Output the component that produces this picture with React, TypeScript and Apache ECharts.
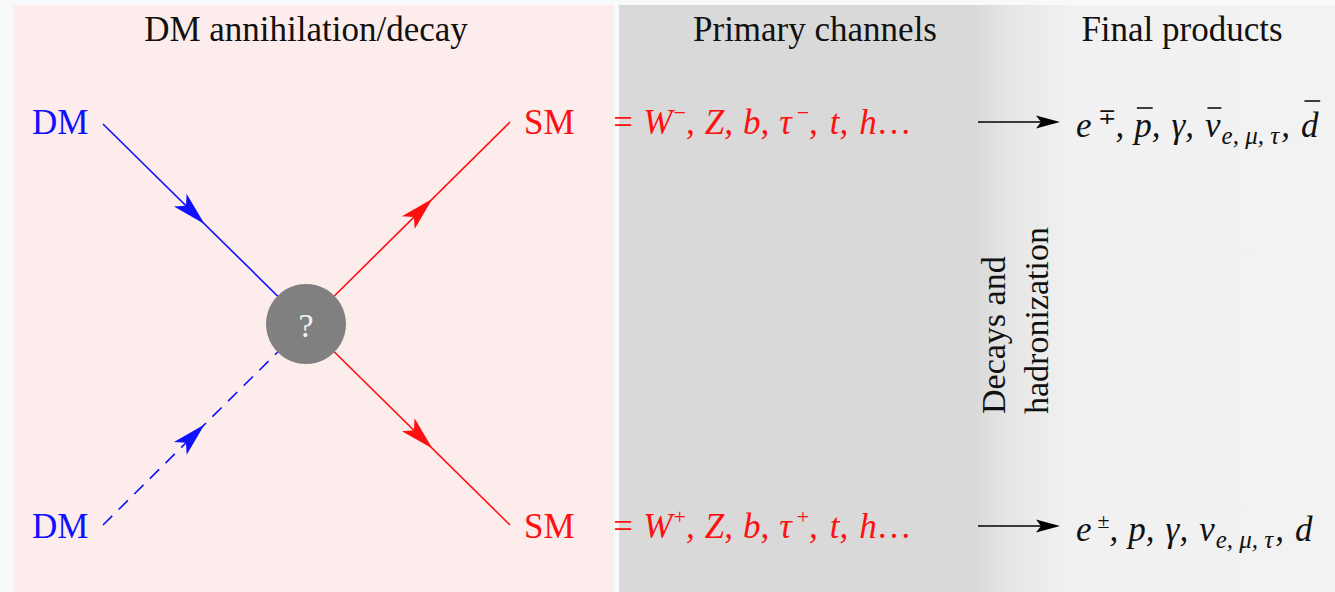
import React, { useEffect, useRef } from 'react';
import * as echarts from 'echarts';

const W = 1335;
const H = 592;
const FONT = '"Liberation Serif", "Times New Roman", serif';

const panelTitles = ['DM annihilation/decay', 'Primary channels', 'Final products'];
const titleCenters = [306, 815, 1182];
const inLabels = ['DM', 'DM'];
const outLabels = ['SM', 'SM'];
const channelSigns = ['−', '+'];
const finalSigns = ['∓', '±'];
const antiparticle = [true, false];
const verticalLabel = ['Decays and', 'hadronization'];
const rowY = [122, 526];

const BLUE = '#1010ff';
const RED = '#ff1010';
const INK = '#111111';

type Piece = { t: string; k: 'm' | 'sup' | 'sub'; gap?: number; bar?: [number, number, number] };

const SIZES = { m: 35, sup: 22, sub: 25 };

function arrowHead(tipX: number, tipY: number, dx: number, dy: number, len: number, half: number, notch: number, fill: string, z = 20) {
  const l = Math.hypot(dx, dy);
  const ux = dx / l, uy = dy / l;
  const px = -uy, py = ux;
  const bx = tipX - ux * len, by = tipY - uy * len;
  const nx = tipX - ux * (len - notch), ny = tipY - uy * (len - notch);
  return {
    type: 'polygon',
    z,
    shape: { points: [[tipX, tipY], [bx + px * half, by + py * half], [nx, ny], [bx - px * half, by - py * half]] },
    style: { fill },
  };
}

export default function App() {
  const ref = useRef<HTMLDivElement>(null);
  useEffect(() => {
    document.body.style.margin = '0';
    const chart = echarts.init(ref.current!, null, { renderer: 'svg', width: W, height: H });
    const ctx = document.createElement('canvas').getContext('2d')!;
    const measure = (t: string, size: number, italic: boolean) => {
      ctx.font = `${italic ? 'italic ' : ''}${size}px ${FONT}`;
      return ctx.measureText(t).width;
    };
    const els: any[] = [];
    const layout = (pieces: Piece[], x0: number, y: number, fill: string, offs: { sup: number; sub: number; m: number }, italicSup: boolean) => {
      let x = x0;
      pieces.forEach((p) => {
        x += p.gap || 0;
        const size = SIZES[p.k];
        const italic = p.k === 'sup' ? italicSup : true;
        const w = measure(p.t, size, italic);
        els.push({
          type: 'text', z: 10, x, y: y + offs[p.k],
          style: { text: p.t, fontSize: size, fontFamily: FONT, fontStyle: italic ? 'italic' : 'normal', fill, textAlign: 'left', textVerticalAlign: 'middle' },
        });
        if (p.bar) {
          els.push({ type: 'line', z: 11, shape: { x1: x + w * p.bar[0], y1: y + p.bar[2], x2: x + w * p.bar[1], y2: y + p.bar[2] }, style: { stroke: fill, lineWidth: 1.6 } });
        }
        x += w;
      });
    };

    const cx = 306, cy = 324, r = 40;
    const inStart = [[103, 124], [103, 525]];
    const outEnd = [[510, 122], [510, 525]];
    // backgrounds
    els.push({ type: 'rect', z: 0, shape: { x: 0, y: 0, width: W, height: H }, style: { fill: '#f7f9fb' } });
    els.push({ type: 'rect', z: 1, shape: { x: 13, y: 5, width: 601, height: H - 5 }, style: { fill: '#fdecec' } });
    els.push({
      type: 'rect', z: 1, shape: { x: 619, y: 5, width: W - 619, height: H - 5 },
      style: {
        fill: new echarts.graphic.LinearGradient(0, 0, 1, 0, [
          { offset: 0, color: '#d9d9d9' },
          { offset: (975 - 619) / (W - 619), color: '#d9d9d9' },
          { offset: (1010 - 619) / (W - 619), color: '#e6e6e6' },
          { offset: (1070 - 619) / (W - 619), color: '#f1f1f1' },
          { offset: 1, color: '#f2f2f2' },
        ]),
      },
    });
    // titles
    panelTitles.forEach((t, i) => {
      els.push({ type: 'text', z: 10, x: titleCenters[i], y: 29, style: { text: t, fontSize: 35, fontFamily: FONT, fill: INK, textAlign: 'center', textVerticalAlign: 'middle' } });
    });
    // lines
    els.push({ type: 'line', z: 5, shape: { x1: inStart[0][0], y1: inStart[0][1], x2: cx, y2: cy }, style: { stroke: BLUE, lineWidth: 1.6 } });
    els.push({ type: 'line', z: 5, shape: { x1: inStart[1][0], y1: inStart[1][1], x2: cx, y2: cy }, style: { stroke: BLUE, lineWidth: 1.6, lineDash: [13, 9] } });
    outEnd.forEach((p) => {
      els.push({ type: 'line', z: 5, shape: { x1: cx, y1: cy, x2: p[0], y2: p[1] }, style: { stroke: RED, lineWidth: 1.6 } });
    });
    // arrowheads
    inStart.forEach((p) => {
      const t = 0.5;
      const tx = p[0] + (cx - p[0]) * t, ty = p[1] + (cy - p[1]) * t;
      els.push(arrowHead(tx, ty, cx - p[0], cy - p[1], 34, 9, 8, BLUE));
    });
    outEnd.forEach((p) => {
      const t = 0.62;
      const tx = cx + (p[0] - cx) * t, ty = cy + (p[1] - cy) * t;
      els.push(arrowHead(tx, ty, p[0] - cx, p[1] - cy, 34, 9, 8, RED));
    });
    // vertex
    els.push({ type: 'circle', z: 15, shape: { cx, cy, r }, style: { fill: '#808080' } });
    els.push({ type: 'text', z: 16, x: cx, y: cy + 1, style: { text: '?', fontSize: 34, fontFamily: FONT, fill: '#f2f2f2', textAlign: 'center', textVerticalAlign: 'middle' } });
    // labels and rows
    rowY.forEach((y, i) => {
      els.push({ type: 'text', z: 10, x: 32, y, style: { text: inLabels[i], fontSize: 35, fontFamily: FONT, fill: BLUE, textAlign: 'left', textVerticalAlign: 'middle' } });
      els.push({ type: 'text', z: 10, x: 524, y, style: { text: outLabels[i], fontSize: 35, fontFamily: FONT, fill: RED, textAlign: 'left', textVerticalAlign: 'middle' } });
      const s = channelSigns[i];
      layout(
        [
          { t: '= W', k: 'm' },
          { t: s, k: 'sup', gap: 1 },
          { t: ',', k: 'm' },
          { t: 'Z,', k: 'm', gap: 10 },
          { t: 'b,', k: 'm', gap: 10 },
          { t: 'τ', k: 'm', gap: 10 },
          { t: s, k: 'sup', gap: 5 },
          { t: ',', k: 'm' },
          { t: 't,', k: 'm', gap: 12 },
          { t: 'h', k: 'm', gap: 11 },
          { t: '.', k: 'm', gap: 2 },
          { t: '.', k: 'm', gap: 3 },
          { t: '.', k: 'm', gap: 3 },
        ],
        611, y, RED, { m: 0, sup: -10, sub: 12 }, false,
      );
      // black arrow
      els.push({ type: 'line', z: 10, shape: { x1: 978, y1: y, x2: 1048, y2: y }, style: { stroke: '#000', lineWidth: 1.6 } });
      els.push(arrowHead(1060, y, 1, 0, 24, 6.5, 5, '#000'));
      const bar = antiparticle[i];
      layout(
        [
          { t: 'e', k: 'm' },
          { t: finalSigns[i], k: 'sup', gap: 6 },
          { t: ',', k: 'm' },
          { t: 'p', k: 'm', gap: 10, bar: bar ? [0.15, 1.05, -17] : undefined },
          { t: ',', k: 'm' },
          { t: 'γ', k: 'm', gap: 11 },
          { t: ',', k: 'm' },
          { t: 'ν', k: 'm', gap: 11, bar: bar ? [0.15, 1.05, -17] : undefined },
          { t: 'e, μ, τ', k: 'sub', gap: 1 },
          { t: ',', k: 'm', gap: 2 },
          { t: 'd', k: 'm', gap: 11, bar: bar ? [0.2, 1.1, -24] : undefined },
        ],
        1076, y + 3, INK, { m: 0, sup: -9, sub: 10 }, false,
      );
    });
    // vertical label
    els.push({
      type: 'text', z: 10, x: 1015, y: 414, rotation: Math.PI / 2,
      style: { text: verticalLabel.join('\n'), fontSize: 34, fontFamily: FONT, fill: INK, textAlign: 'left', textVerticalAlign: 'middle', lineHeight: 43 },
    });
    chart.setOption({ animation: false, graphic: { elements: els } });
    return () => chart.dispose();
  }, []);
  return <div ref={ref} style={{ width: W, height: H, position: 'absolute', left: 0, top: 0 }} />;
}
